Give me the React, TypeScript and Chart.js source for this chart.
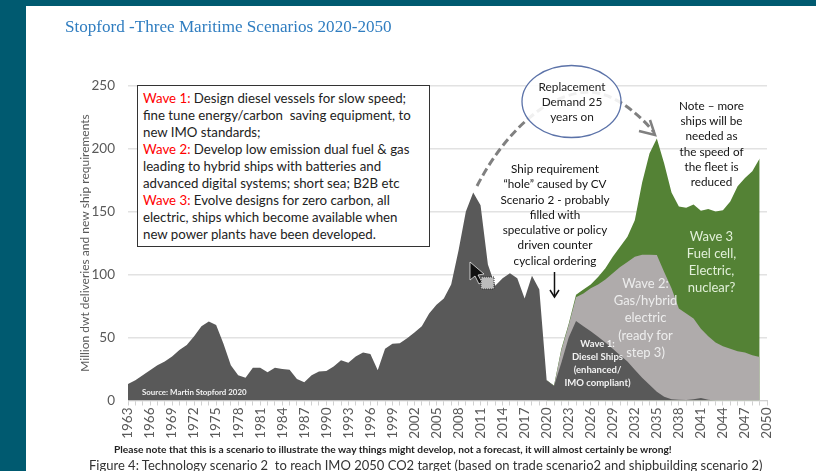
import React, { useEffect, useRef } from "react";
import { Chart, registerables } from "chart.js";

Chart.register(...registerables);

const years: string[] = Array.from({ length: 88 }, (_, i) => String(1963 + i));

// Top of the dark band, 1963-2049
const waveOneTop = [
  13, 16, 20, 24, 28, 31, 35, 40, 44, 51, 59, 62.7, 60, 45, 28, 20, 18, 26, 26, 22.5,
  26, 25, 24.5, 17, 14.5, 20, 23, 23.5, 27, 32, 30, 35, 38, 37, 24, 41, 45, 45.5, 49.5, 54,
  59, 69, 76, 81, 92, 119, 150, 165, 155, 108, 91, 97, 101, 97, 81, 99, 88, 16, 11.6,
  30, 50, 63, 59, 55, 50.5, 46, 41, 36, 31, 24.5, 18, 12.5, 7, 3, 1, 0.5, 0.3, 1, 2, 0.5,
  0, 0, 0, 0, 0, 0, 0,
];
// Top of the grey band, 2020-2049
const waveTwoTop = [
  16, 11.6, 40, 60, 82, 85, 89, 92, 96, 101, 106, 110, 114, 115.6, 115.6, 115.5, 102, 89, 73, 69,
  65, 57, 51, 46, 43, 41, 39, 38, 36, 34.5,
];
// Top of the green band, 2020-2049
const waveThreeTop = [
  16, 12, 41, 61, 84, 88, 92, 98, 105, 114, 122, 130, 143, 173, 196, 208, 188, 165, 154, 153,
  155.5, 150.5, 152, 150, 151, 158, 170, 176.5, 182, 192,
];
const yearsBeforeScenario = 57;

const noteLines = ["Note \u2013 more", "ships will be", "needed as", "the speed of", "the fleet is", "reduced"];
const holeLines = [
  "Ship requirement", "\u201Chole\u201D caused by CV", "Scenario 2 - probably", "filled with",
  "speculative or policy", "driven counter", "cyclical ordering",
];
const wave3Lines = ["Wave 3", "Fuel cell,", "Electric,", "nuclear?"];
const wave2Lines = ["Wave 2:", "Gas/hybrid", "electric", "(ready for", "step 3)"];
const wave1Lines = ["Wave 1:", "Diesel Ships", "(enhanced/", "IMO compliant)"];
const replacementLines = ["Replacement", "Demand 25", "years on"];

const FONT = "Lato, 'Open Sans', sans-serif";

function Stack(props: {
  lines: string[]; cx: number; top: number; lh: number; size: number; color: string; bold?: boolean;
}) {
  const { lines, cx, top, lh, size, color, bold } = props;
  return (
    <div
      style={{
        position: "absolute", left: cx - 90, width: 180, top, textAlign: "center", color,
        fontFamily: FONT, fontSize: size, lineHeight: `${lh}px`, fontWeight: bold ? 700 : 400,
        whiteSpace: "nowrap",
      }}
    >
      {lines.map((l) => (
        <div key={l}>{l}</div>
      ))}
    </div>
  );
}

export default function App() {
  const ref = useRef<HTMLCanvasElement>(null);

  useEffect(() => {
    document.body.style.margin = "0";
    const area = (color: string, data: (number | null)[]) => ({
      data, backgroundColor: color, borderColor: color, borderWidth: 0, pointRadius: 0,
      tension: 0, fill: "origin" as const,
    });
    const chart = new Chart(ref.current!, {
      type: "line",
      data: {
        labels: years,
        datasets: [
          area("#595959", waveOneTop),
          area("#AFABAB", [...Array(yearsBeforeScenario).fill(null), ...waveTwoTop]),
          area("#548235", [...Array(yearsBeforeScenario).fill(null), ...waveThreeTop]),
        ],
      },
      options: {
        animation: false,
        responsive: false,
        layout: { padding: { left: 78, top: 85.5, right: 49, bottom: 0 } },
        plugins: { legend: { display: false }, tooltip: { enabled: false } },
        scales: {
          x: {
            type: "category",
            offset: false,
            afterFit: (s: any) => { s.height = 70.5; },
            grid: { drawOnChartArea: false, color: "#d0d0d0", tickLength: 5 },
            border: { color: "#d0d0d0" },
            ticks: {
              autoSkip: false, minRotation: 90, maxRotation: 90, padding: 2, color: "#595959",
              font: { family: FONT, size: 13.5 },
              callback: (_v: any, i: number) => (i % 3 === 0 ? years[i] : ""),
            },
          },
          y: {
            min: 0, max: 250,
            afterFit: (s: any) => { s.width = 50; },
            grid: { color: "#e2e2e2", lineWidth: 1.5, drawTicks: false },
            border: { display: false },
            ticks: {
              stepSize: 50, color: "#595959", padding: 13,
              font: { family: FONT, size: 13.5 },
            },
            title: {
              display: true, text: "Million dwt deliveries and new ship requirements",
              color: "#595959", font: { family: FONT, size: 12 }, padding: 0,
            },
          },
        },
      },
    });
    return () => chart.destroy();
  }, []);

  return (
    <div style={{ position: "fixed", left: 0, top: 0, width: 816, height: 471, overflow: "hidden", background: "#005A70", filter: "blur(0.35px)" }}>
      <div style={{ position: "absolute", left: 26, top: 6, width: 790, height: 465, background: "#fff" }} />
      <canvas ref={ref} width={816} height={471} style={{ position: "absolute", left: 0, top: 0, width: 816, height: 471 }} />

      <div style={{ position: "absolute", left: 65, top: 18, color: "#2F7DC0", fontFamily: "'Liberation Serif', serif", fontSize: 17.1, whiteSpace: "nowrap", lineHeight: "18px" }}>
        Stopford -Three Maritime Scenarios 2020-2050
      </div>

      <svg width={816} height={471} style={{ position: "absolute", left: 0, top: 0 }}>
        <path d="M 477 186 C 505 132 548 92 590 92 C 612 93 635 110 654 132" fill="none" stroke="#808080" strokeWidth={3} strokeDasharray="8 4" />
        <path d="M 639 131 L 655 135 L 650 120" fill="none" stroke="#808080" strokeWidth={2.5} />
        <ellipse cx={571.5} cy={101.5} rx={49.5} ry={36} fill="#ffffff" fillOpacity={0.88} stroke="#5B72A8" strokeWidth={1.3} />
        <path d="M 554.5 272 L 554.5 296" stroke="#111" strokeWidth={1.5} />
        <path d="M 550 290 L 554.5 297 L 559 290" fill="none" stroke="#111" strokeWidth={1.5} />
        <path d="M 470 262 L 470 280 L 475 276 L 479 284 L 482 282 L 478 275 L 484 274 Z" fill="#111" stroke="#fff" strokeWidth={0.7} />
        <rect x={481} y={277} width={13} height={12} fill="#bbb" stroke="#333" strokeWidth={1} strokeDasharray="1 1" />
      </svg>

      <div
        style={{
          position: "absolute", left: 137, top: 85, width: 293, height: 162, boxSizing: "border-box",
          border: "1px solid #333", background: "#fff", padding: "0 0 0 5px", color: "#222",
          fontFamily: FONT, fontSize: 13.25, lineHeight: "17px", whiteSpace: "nowrap", paddingTop: 4,
        }}
      >
        <div><span style={{ color: "#FF0000" }}>Wave 1:</span> Design diesel vessels for slow speed;</div>
        <div>fine tune energy/carbon&nbsp; saving equipment, to</div>
        <div>new IMO standards;</div>
        <div><span style={{ color: "#FF0000" }}>Wave 2:</span> Develop low emission dual fuel &amp; gas</div>
        <div>leading to hybrid ships with batteries and</div>
        <div>advanced digital systems; short sea; B2B etc</div>
        <div><span style={{ color: "#FF0000" }}>Wave 3:</span> Evolve designs for zero carbon, all</div>
        <div>electric, ships which become available when</div>
        <div>new power plants have been developed.</div>
      </div>

      <Stack lines={replacementLines} cx={572} top={79} lh={15} size={11.8} color="#222" />
      <Stack lines={noteLines} cx={711.5} top={98} lh={15.2} size={11.7} color="#111" />
      <Stack lines={holeLines} cx={555} top={161} lh={15.3} size={11.7} color="#111" />
      <Stack lines={wave3Lines} cx={711.5} top={228} lh={17} size={13} color="#E2F0D9" />
      <Stack lines={wave2Lines} cx={645.5} top={275} lh={17.2} size={13} color="#EDEDED" />
      <Stack lines={wave1Lines} cx={597.5} top={337} lh={13} size={9.5} color="#F2F2F2" bold />

      <div style={{ position: "absolute", left: 142, top: 386, color: "#F2F2F2", fontFamily: FONT, fontSize: 7.9, fontWeight: 700, lineHeight: "12px", whiteSpace: "nowrap" }}>
        Source: Martin Stopford 2020
      </div>
      <div style={{ position: "absolute", left: 114, top: 443, color: "#222", fontFamily: FONT, fontSize: 10.2, fontWeight: 700, lineHeight: "12px", whiteSpace: "nowrap" }}>
        Please note that this is a scenario to illustrate the way things might develop, not a forecast, it will almost certainly be wrong!
      </div>
      <div style={{ position: "absolute", left: 89, top: 458, color: "#333", fontFamily: FONT, fontSize: 13, lineHeight: "15px", whiteSpace: "nowrap" }}>
        Figure 4: Technology scenario 2&nbsp; to reach IMO 2050 CO2 target (based on trade scenario2 and shipbuilding scenario 2)
      </div>
    </div>
  );
}
